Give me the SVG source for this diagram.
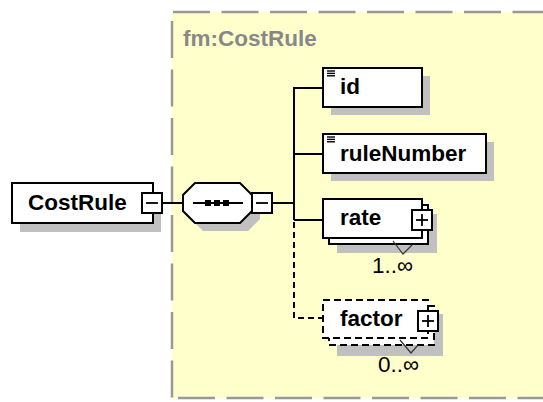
<svg xmlns="http://www.w3.org/2000/svg" width="543" height="402" viewBox="0 0 543 402">
<defs>
<style>
.box{fill:#fff;stroke:#000;stroke-width:2}
.dbox{fill:#fff;stroke:#000;stroke-width:2;stroke-dasharray:7,4}
.shadow{fill:#c0c0c0}
.lbl{font-family:"Liberation Sans",Arial,sans-serif;font-weight:bold;font-size:22.5px;fill:#000}
.occ{font-family:"Liberation Sans",Arial,sans-serif;font-size:22.5px;fill:#000}
.grp{font-family:"Liberation Sans",Arial,sans-serif;font-weight:bold;font-size:22.5px;fill:#888}
.ln{stroke:#000;stroke-width:2;fill:none}
.dln{stroke:#000;stroke-width:2;fill:none;stroke-dasharray:6,4}
.frame{stroke:#999;stroke-width:2.5;fill:none;stroke-dasharray:37,11.5}
.sign{stroke:#000;stroke-width:1.8;fill:none}
.icon{stroke:#000;stroke-width:1.4}
.notch{stroke:#333;stroke-width:1.2;fill:none}
</style>
</defs>
<rect width="543" height="402" fill="#fff"/>
<g id="group-fm-CostRule">
<rect x="172" y="12" width="400" height="386" fill="#ffffcc"/>
<line class="frame" x1="173" y1="12" x2="560" y2="12"/>
<line class="frame" x1="172" y1="21" x2="172" y2="398"/>
<line class="frame" x1="178" y1="398" x2="560" y2="398"/>
<text class="grp" x="183" y="46">fm:CostRule</text>
</g>
<g id="connectors">
<line class="ln" x1="162" y1="203" x2="183" y2="203"/>
<line class="ln" x1="272" y1="203" x2="294" y2="203"/>
<line class="ln" x1="294" y1="87" x2="294" y2="220"/>
<line class="ln" x1="294" y1="88" x2="323" y2="88"/>
<line class="ln" x1="294" y1="154" x2="323" y2="154"/>
<line class="ln" x1="294" y1="220" x2="323" y2="220"/>
<polyline class="dln" points="294,222 294,318 323,318"/>
</g>
<g id="node-CostRule">
<rect class="shadow" x="20" y="192" width="141" height="40"/>
<rect class="box" x="12" y="183" width="141" height="40"/>
<text class="lbl" x="28" y="210">CostRule</text>
<rect class="box" x="142" y="193" width="20" height="20"/>
<line class="sign" x1="146" y1="203" x2="158" y2="203"/>
</g>
<g id="node-sequence">
<polygon class="shadow" points="203,191 248,191 260,203 260,219 248,231 203,231 191,219 191,203"/>
<polygon class="box" points="195,183 240,183 252,195 252,211 240,223 195,223 183,211 183,195"/>
<line class="ln" x1="193" y1="203" x2="243" y2="203"/>
<rect x="205" y="200" width="6" height="6" fill="#000"/>
<rect x="214" y="200" width="6" height="6" fill="#000"/>
<rect x="223" y="200" width="6" height="6" fill="#000"/>
<rect class="box" x="252" y="193" width="20" height="20"/>
<line class="sign" x1="256" y1="203" x2="268" y2="203"/>
</g>
<g id="node-id">
<rect class="shadow" x="331" y="76" width="99" height="39"/>
<rect class="box" x="323" y="68" width="99" height="39"/>
<line class="icon" x1="327" y1="71" x2="335" y2="71"/>
<line class="icon" x1="327" y1="73.4" x2="335" y2="73.4"/>
<line class="icon" x1="327" y1="75.8" x2="335" y2="75.8"/>
<text class="lbl" x="340" y="94">id</text>
</g>
<g id="node-ruleNumber">
<rect class="shadow" x="331" y="142" width="163" height="39"/>
<rect class="box" x="323" y="134" width="163" height="39"/>
<line class="icon" x1="327" y1="137" x2="335" y2="137"/>
<line class="icon" x1="327" y1="139.4" x2="335" y2="139.4"/>
<line class="icon" x1="327" y1="141.8" x2="335" y2="141.8"/>
<text class="lbl" x="340" y="161">ruleNumber</text>
</g>
<g id="node-rate">
<rect class="shadow" x="337" y="214" width="100" height="39"/>
<rect class="box" x="329" y="205" width="99" height="39"/>
<rect class="box" x="323" y="199" width="99" height="39"/>
<polyline class="notch" points="393,241 403,254 412,245"/>
<text class="lbl" x="340" y="225">rate</text>
<rect class="box" x="412" y="210" width="20" height="20"/>
<line class="sign" x1="416" y1="220" x2="428" y2="220"/>
<line class="sign" x1="422" y1="214" x2="422" y2="226"/>
<text class="occ" x="372" y="273">1..∞</text>
</g>
<g id="node-factor">
<rect class="shadow" x="337" y="314" width="106" height="42"/>
<rect class="dbox" x="329" y="306" width="105" height="39"/>
<rect class="dbox" x="323" y="300" width="105" height="38"/>
<polyline class="notch" points="400,340 411,353 418,345"/>
<text class="lbl" x="340" y="326">factor</text>
<rect class="box" x="418" y="311" width="20" height="20"/>
<line class="sign" x1="422" y1="321" x2="434" y2="321"/>
<line class="sign" x1="428" y1="315" x2="428" y2="327"/>
<text class="occ" x="378" y="372">0..∞</text>
</g>
</svg>
